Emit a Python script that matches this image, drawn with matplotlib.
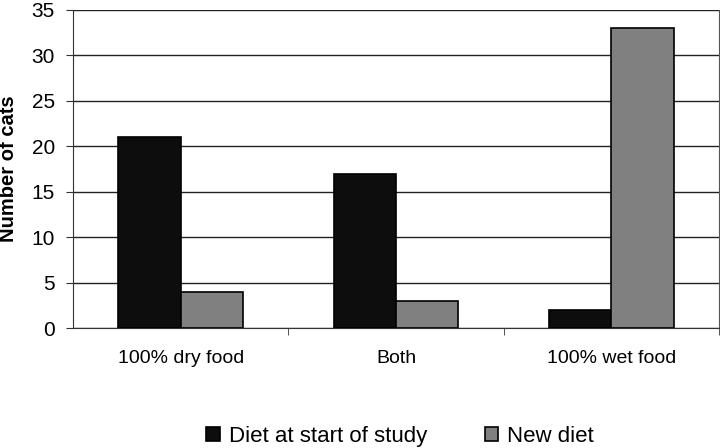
import matplotlib.pyplot as plt
import numpy as np

categories = ['100% dry food', 'Both', '100% wet food']
start_diet = [21, 17, 2]
new_diet = [4, 3, 33]
series_names = ['Diet at start of study', 'New diet']

plt.rcParams['font.family'] = ['Liberation Sans', 'DejaVu Sans']

fig = plt.figure(figsize=(7.2, 4.48), dpi=100)
ax = fig.add_axes([73/720, 1-328/448, (719-73)/720, (328-10)/448])

x = np.arange(len(categories))
w = 0.29
ax.bar(x - w/2, start_diet, w, color='#0d0d0d', edgecolor='black', linewidth=1.2,
       label=series_names[0], zorder=3)
ax.bar(x + w/2, new_diet, w, color='#808080', edgecolor='black', linewidth=1.2,
       label=series_names[1], zorder=3)

ax.set_xlim(-0.5, 2.5)
ax.set_ylim(0, 35)
ax.set_yticks(range(0, 36, 5))
ax.yaxis.grid(True, color='#222222', linewidth=1, zorder=0)
ax.set_xticks(x)
ax.set_xticklabels(categories, fontsize=14)
ax.tick_params(axis='x', length=0, pad=16)
ax.set_xticks([0.5, 1.5, 2.5], minor=True)
ax.tick_params(axis='x', which='minor', length=5, color='#333333')
ax.tick_params(axis='y', labelsize=15, length=5, color='#333333', pad=8)
for s in ['left', 'bottom']:
    ax.spines[s].set_color('#333333')
ax.spines['top'].set_visible(False)
ax.spines['right'].set_color('#555555')
ax.set_ylabel('Number of cats', fontsize=14.5, fontweight='bold')
ax.yaxis.set_label_coords(-55/646, 0.5)

fig.legend(loc='center', bbox_to_anchor=(400/720, 12/448), ncol=2, frameon=False,
           fontsize=16, handlelength=0.6, handleheight=0.6, handletextpad=0.4,
           columnspacing=2.6)

fig.savefig('out.png')
